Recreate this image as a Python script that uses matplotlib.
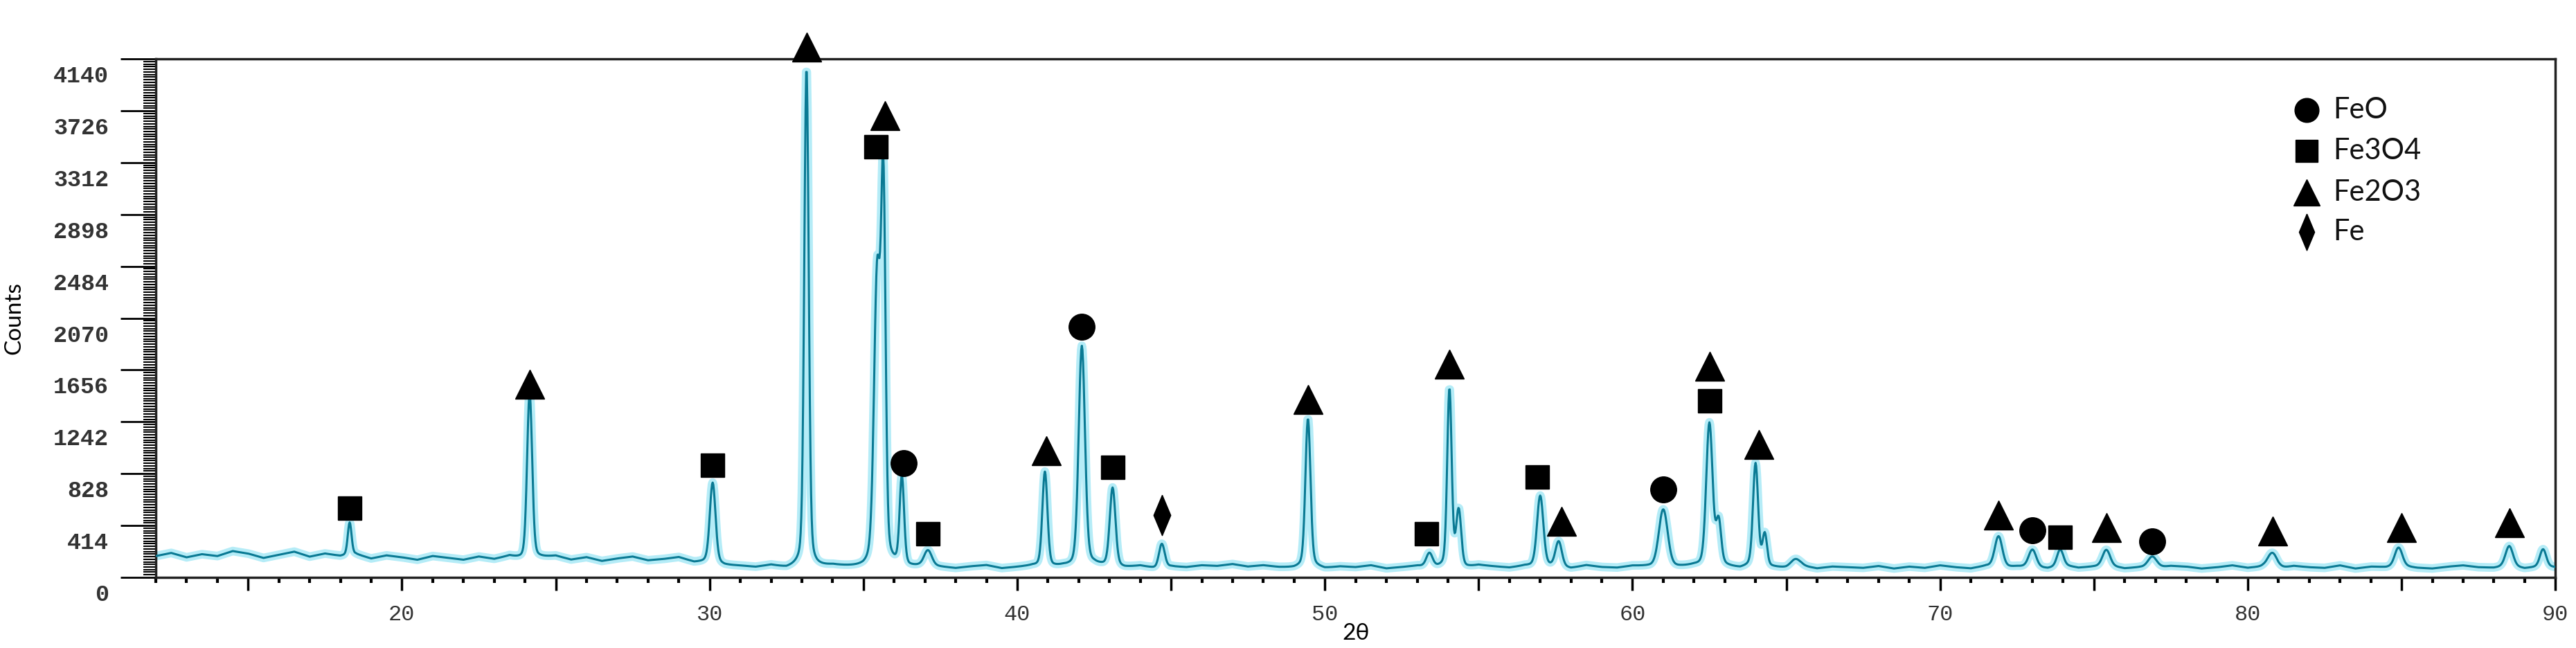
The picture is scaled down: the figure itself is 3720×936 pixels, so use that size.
import numpy as np
import matplotlib.pyplot as plt
from matplotlib.ticker import MultipleLocator, FixedLocator
from matplotlib.transforms import ScaledTranslation

# Peak list: position (2theta), height above background (counts), width (sigma, deg)
peak_pos = [18.3, 24.15, 30.1, 33.15, 35.45, 35.65, 36.25, 37.1, 40.9, 42.1, 43.1, 44.7,
            49.45, 53.4, 54.05, 54.35, 57.0, 57.6, 61.0, 62.5, 62.8, 64.0, 64.3,
            65.3, 71.9, 73.0, 73.9, 75.4, 76.9, 80.8, 84.9, 88.5, 89.6]
peak_height = [260, 1330, 640, 3990, 2300, 2850, 700, 120, 760, 1770, 630, 190,
               1180, 110, 1420, 450, 570, 200, 470, 1150, 350, 810, 250,
               60, 250, 140, 130, 130, 90, 120, 150, 160, 140]
peak_width = [0.06, 0.08, 0.09, 0.07, 0.1, 0.07, 0.07, 0.12, 0.08, 0.1, 0.09, 0.09,
              0.08, 0.1, 0.07, 0.08, 0.1, 0.1, 0.14, 0.1, 0.08, 0.08, 0.07,
              0.15, 0.12, 0.12, 0.1, 0.12, 0.14, 0.15, 0.12, 0.12, 0.1]

# Background level read every 0.5 deg from 12 to 90
bg_x = np.arange(12, 90.01, 0.5)
bg_y = [170, 195, 160, 185, 170, 210, 190, 155, 180, 205, 165, 190, 170, 185, 150,
        175, 160, 140, 170, 155, 140, 165, 145, 170, 135, 155, 170, 140, 160, 130,
        150, 165, 135, 145, 160, 120, 120, 95, 90, 80, 95, 70, 85, 75, 90, 80,
        70, 95, 85, 75, 90, 80, 70, 85, 95, 70, 80, 90, 75, 85, 70, 95, 80, 75,
        90, 70, 85, 80, 95, 90, 105, 85, 95, 80, 75, 90, 70, 85, 80, 95, 70, 80,
        90, 75, 80, 70, 95, 85, 75, 90, 80, 85, 70, 95, 80, 75, 90, 85, 70, 80,
        90, 75, 85, 70, 95, 80, 75, 90, 70, 85, 80, 75, 90, 70, 85, 75, 95, 80,
        70, 90, 75, 85, 80, 70, 95, 75, 85, 90, 70, 80, 75, 90, 85, 70, 80, 95,
        75, 85, 70, 90, 80, 75, 95, 70, 85, 80, 90, 75, 70, 85, 95, 80, 75, 90,
        70, 85, 80]

y_ticks = [0, 414, 828, 1242, 1656, 2070, 2484, 2898, 3312, 3726, 4140]

# Phase markers: (2theta, counts)
feo_x = [36.3, 42.1, 61.0, 73.0, 76.9]
feo_y = [910, 2000, 700, 375, 290]
fe3o4_x = [18.3, 30.1, 35.4, 37.1, 43.1, 53.3, 56.9, 62.5, 73.9]
fe3o4_y = [550, 895, 3440, 350, 880, 350, 800, 1410, 320]
fe2o3_x = [24.15, 33.15, 35.7, 40.95, 49.45, 54.05, 57.7, 62.5, 64.1, 71.9, 75.4, 80.8, 85.0, 88.5]
fe2o3_y = [1540, 4235, 3690, 1010, 1420, 1700, 445, 1685, 1060, 500, 400, 370, 400, 435]
fe_x = [44.7]
fe_y = [500]

legend_labels = ["FeO", "Fe3O4", "Fe2O3", "Fe"]

x = np.arange(12, 90, 0.02)
counts = np.interp(x, bg_x, bg_y)
for p, h, w in zip(peak_pos, peak_height, peak_width):
    # pseudo-Voigt: mostly Gaussian core with a Lorentzian foot
    g = np.exp(-0.5 * ((x - p) / w) ** 2)
    lz = 1 / (1 + ((x - p) / (1.5 * w)) ** 2)
    counts += h * (0.8 * g + 0.2 * lz)

fig = plt.figure(figsize=(37.2, 9.36), dpi=100)
ax = fig.add_axes([0.0605, 0.109, 0.9315, 0.8])

ax.plot(x, counts, color="#b5ecf7", lw=9, solid_joinstyle="round", zorder=2)
ax.plot(x, counts, color="#0a7a94", lw=2.2, zorder=3)

ax.set_xlim(12, 90)
ax.set_ylim(0, 4140)

for s in ["top", "bottom", "left", "right"]:
    ax.spines[s].set_linewidth(2.5)
    ax.spines[s].set_color("#222222")

# y axis ticks: long majors, dense minors, labels a bit below each tick
ax.yaxis.set_major_locator(FixedLocator(y_ticks))
ax.yaxis.set_minor_locator(MultipleLocator(414 / 20))
ax.tick_params(axis="y", which="major", direction="out", length=37, width=2, pad=12,
               labelsize=24, labelcolor="#333333")
ax.tick_params(axis="y", which="minor", direction="out", length=13, width=1.5)
ax.set_yticklabels([str(v) for v in y_ticks], family="Liberation Mono", weight="bold")
for lab in ax.get_yticklabels():
    lab.set_transform(lab.get_transform() + ScaledTranslation(0, -0.22, fig.dpi_scale_trans))

# x axis ticks: majors every 5, labels every 10, minors every 1
ax.xaxis.set_major_locator(MultipleLocator(5))
ax.xaxis.set_minor_locator(MultipleLocator(1))
ax.tick_params(axis="x", which="major", direction="out", length=14, width=2.5, pad=14,
               labelsize=23, labelcolor="#333333")
ax.tick_params(axis="x", which="minor", direction="out", length=6, width=3, pad=14)
ax.set_xticklabels([str(int(v)) if v % 10 == 0 else "" for v in ax.get_xticks()],
                   family="Liberation Mono")

ax.set_ylabel("Counts", family="Lato", fontsize=24, labelpad=30)
ax.set_xlabel("2θ", family="Lato", fontsize=24, labelpad=-2)

mk = dict(color="black", linestyle="none", clip_on=False, zorder=5)
diamond = [(0, 1), (0.42, 0), (0, -1), (-0.42, 0), (0, 1)]
ax.plot(feo_x, feo_y, marker="o", markersize=27, **mk)
ax.plot(fe3o4_x, fe3o4_y, marker="s", markersize=25, **mk)
ax.plot(fe2o3_x, fe2o3_y, marker="^", markersize=30, **mk)
ax.plot(fe_x, fe_y, marker=diamond, markersize=42, **mk)

# legend drawn by hand in axes fraction
leg_markers = ["o", "s", "^", diamond]
leg_sizes = [25, 23, 27, 38]
leg_y = [0.901, 0.822, 0.742, 0.666]
for m, sz, ly, lab in zip(leg_markers, leg_sizes, leg_y, legend_labels):
    ax.plot([0.8964], [ly], marker=m, markersize=sz, color="black", linestyle="none",
            transform=ax.transAxes, zorder=5)
    ax.text(0.9075, ly, lab, transform=ax.transAxes, family="Lato", fontsize=30,
            va="center", ha="left", color="#111111")

fig.savefig("out.png", dpi=100)
